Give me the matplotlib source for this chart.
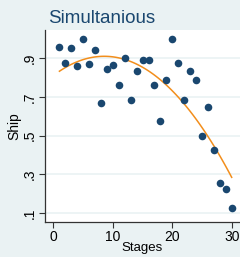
import numpy as np
import matplotlib
matplotlib.use("Agg")
from matplotlib import pyplot as plt

# data
stages = [1, 2, 3, 4, 5, 6, 7, 8, 9, 10, 11, 12, 13, 14, 15,
          16, 17, 18, 19, 20, 21, 22, 23, 24, 25, 26, 27, 28, 29, 30]
ship = [0.957, 0.876, 0.953, 0.858, 1.0, 0.872, 0.945, 0.667, 0.845, 0.865,
        0.763, 0.9, 0.684, 0.834, 0.89, 0.89, 0.763, 0.577, 0.79, 1.0,
        0.876, 0.684, 0.834, 0.787, 0.5, 0.648, 0.426, 0.252, 0.223, 0.126]
xticks = [0, 10, 20, 30]
yticks = [0.1, 0.3, 0.5, 0.7, 0.9]
ytick_labels = [".1", ".3", ".5", ".7", ".9"]

bg = "#eaf2f3"
navy = "#1a476f"
orange = "#f28e1c"

plt.rcParams["font.family"] = ["Liberation Sans", "DejaVu Sans"]

fig = plt.figure(figsize=(2.4, 2.57), dpi=100)
fig.patch.set_facecolor(bg)
ax = fig.add_axes([45 / 240, 1 - 221.5 / 257, 1 - 45 / 240, (221.5 - 30) / 257])
ax.set_facecolor("white")

ax.scatter(stages, ship, s=30, color=navy, zorder=3, linewidths=0)

# quadratic fit line
coef = np.polyfit(stages, ship, 2)
xs = np.linspace(min(stages), max(stages), 100)
ax.plot(xs, np.polyval(coef, xs), color=orange, lw=1.1, zorder=2)

ax.set_xlim(-1.43, 31.4)
ax.set_ylim(0.055, 1.047)
ax.set_xticks(xticks)
ax.set_yticks(yticks)
ax.set_yticklabels(ytick_labels, rotation=90, va="center")
ax.grid(axis="y", color=bg, lw=1.2)
ax.set_axisbelow(True)

for s in ["top", "right"]:
    ax.spines[s].set_visible(False)
for s in ["left", "bottom"]:
    ax.spines[s].set_color("#333333")
    ax.spines[s].set_linewidth(0.9)
ax.tick_params(length=4, width=0.8, color="#333333", labelsize=10, pad=2)

ax.set_xlabel("Stages", fontsize=9.5, labelpad=-1.5)
ax.set_ylabel("Ship", fontsize=10, labelpad=1)
fig.text(48 / 240, 1 - 23 / 257, "Simultanious", fontsize=13.5, color=navy,
         ha="left", va="baseline")

fig.savefig("out.png", dpi=100, facecolor=bg)
